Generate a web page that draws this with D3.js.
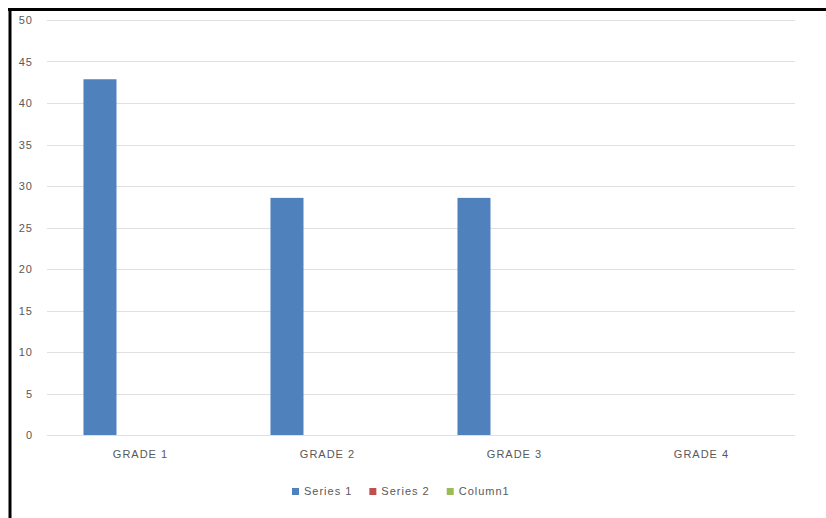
<!DOCTYPE html>
<html>
<head>
<meta charset="utf-8">
<script src="https://cdn.jsdelivr.net/npm/d3@7"></script>
<style>
  html, body { margin: 0; padding: 0; background: #fff; }
  svg { display: block; }
  .lbl { font-family: "Liberation Sans", Arial, sans-serif; font-size: 11px; fill: #595959; letter-spacing: 1px; }
</style>
</head>
<body>
<svg id="chart" width="826" height="518"></svg>
<script>
// Chart data
const categories = ["GRADE 1", "GRADE 2", "GRADE 3", "GRADE 4"];
const seriesNames = ["Series 1", "Series 2", "Column1"];
const series1 = [42.86, 28.57, 28.57, 0];
const series2 = [0, 0, 0, 0];
const column1 = [0, 0, 0, 0];
const yTicks = [0, 5, 10, 15, 20, 25, 30, 35, 40, 45, 50];
const seriesColors = ["#4f81bd", "#c0504d", "#9bbb59"];

const seriesValues = [series1, series2, column1];

const svg = d3.select("#chart");

// Frame around the chart
svg.append("line").attr("x1", 8).attr("x2", 826).attr("y1", 9.5).attr("y2", 9.5)
  .attr("stroke", "#000").attr("stroke-width", 3);
svg.append("line").attr("x1", 10).attr("x2", 10).attr("y1", 8).attr("y2", 518)
  .attr("stroke", "#000").attr("stroke-width", 3);

const plotLeft = 47, plotRight = 795;
const y = d3.scaleLinear().domain([0, 50]).range([435, 20]);
const x0 = d3.scaleBand().domain(categories).range([plotLeft, plotRight])
  .paddingInner(0.39).paddingOuter(0.195);
const x1 = d3.scaleBand().domain(seriesNames).range([0, x0.bandwidth()])
  .paddingInner(0.185).paddingOuter(0);

// Gridlines
svg.append("g").selectAll("line").data(yTicks).join("line")
  .attr("x1", plotLeft).attr("x2", plotRight)
  .attr("y1", d => Math.round(y(d)) + 0.5).attr("y2", d => Math.round(y(d)) + 0.5)
  .attr("stroke", "#e0e0e0").attr("stroke-width", 1.2);

// Y tick labels
svg.append("g").selectAll("text").data(yTicks).join("text")
  .attr("class", "lbl")
  .attr("x", 33).attr("y", d => y(d) + 4)
  .attr("text-anchor", "end")
  .text(d => d);

// Bars
const rows = categories.map((c, i) => ({ cat: c, vals: seriesNames.map((s, j) => ({ s, j, v: seriesValues[j][i] })) }));
svg.append("g").selectAll("g").data(rows).join("g")
  .attr("transform", d => `translate(${x0(d.cat)},0)`)
  .selectAll("rect").data(d => d.vals).join("rect")
  .attr("x", d => x1(d.s))
  .attr("width", x1.bandwidth())
  .attr("y", d => y(d.v))
  .attr("height", d => y(0) - y(d.v))
  .attr("fill", d => seriesColors[d.j]);

// Category labels
svg.append("g").selectAll("text").data(categories).join("text")
  .attr("class", "lbl")
  .attr("x", d => x0(d) + x0.bandwidth() / 2)
  .attr("y", 458)
  .attr("text-anchor", "middle")
  .text(d => d);

// Legend
const legend = svg.append("g");
let lx = 292;
seriesNames.forEach((name, j) => {
  legend.append("rect").attr("x", lx).attr("y", 488).attr("width", 7).attr("height", 7)
    .attr("fill", seriesColors[j]);
  const t = legend.append("text").attr("class", "lbl")
    .attr("x", lx + 12).attr("y", 495).text(name);
  lx += 12 + t.node().getComputedTextLength() + 17;
});
</script>
</body>
</html>
